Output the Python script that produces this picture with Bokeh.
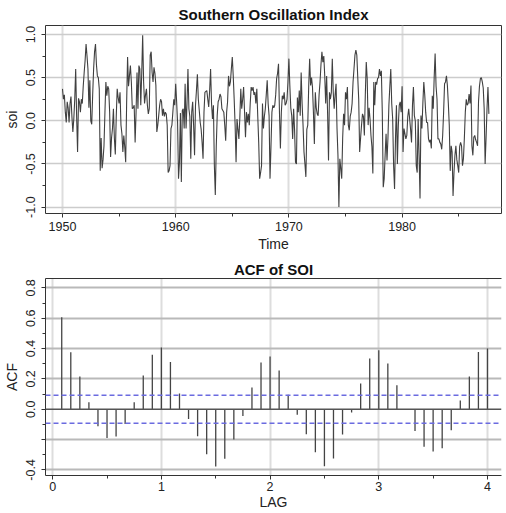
import math
from bokeh.plotting import figure
from bokeh.models import Range1d, FixedTicker, Span, LinearAxis
from bokeh.layouts import column
from bokeh.embed import file_html
from bokeh.resources import INLINE

# ---------------- data ----------------
start_year = 1950
soi = [
    0.37, 0.25, 0.30, 0.10, -0.02, 0.22, 0.15, -0.02, 0.20, 0.28, 0.05, -0.13,
    0.02, 0.25, 0.60, 0.05, -0.36, 0.26, 0.22, 0.10, 0.25, 0.20, 0.40, 0.56,
    0.70, 0.89, 0.75, 0.60, 0.15, 0.47, 0.00, -0.04, 0.30, 0.60, 0.80, 0.89,
    0.65, 0.52, 0.50, 0.37, -0.58, -0.20, -0.55, -0.45, -0.29, 0.10, 0.45, 0.29,
    0.40, 0.37, 0.10, -0.42, -0.20, -0.09, 0.14, -0.20, -0.39, 0.05, 0.37, 0.27,
    0.20, 0.33, -0.05, -0.15, -0.36, -0.17, -0.30, -0.48, 0.20, 0.74, 0.40, 0.52,
    0.64, 0.45, 0.14, 0.15, 0.18, -0.25, 0.10, 0.56, 0.14, 0.64, 0.60, 0.18,
    0.55, 0.99, 0.45, 0.20, 0.30, 0.37, 0.18, 0.08, 0.14, 0.76, 0.80, 0.56,
    0.45, 0.62, 0.55, 0.41, -0.13, -0.05, 0.06, 0.18, 0.25, 0.22, 0.06, 0.14,
    0.05, 0.10, 0.08, -0.05, -0.60, -0.58, -0.52, -0.09, -0.05, 0.10, 0.25, 0.18,
    0.43, 0.22, -0.02, -0.67, -0.48, 0.09, -0.71, 0.12, 0.14, -0.09, 0.43, -0.09,
    0.20, 0.60, 0.14, 0.05, -0.44, 0.10, 0.22, -0.05, -0.40, 0.18, 0.35, 0.54,
    0.25, 0.12, -0.02, -0.10, -0.25, -0.44, 0.10, 0.33, 0.34, 0.35, 0.25, 0.16,
    0.35, 0.60, 0.20, 0.02, 0.18, -0.52, -0.86, -0.30, 0.06, 0.22, 0.25, 0.31,
    0.28, 0.14, 0.12, 0.10, -0.05, -0.23, 0.10, 0.22, 0.52, 0.40, 0.45, 0.60,
    0.74, 0.52, 0.25, -0.05, -0.48, 0.02, -0.10, -0.21, 0.04, 0.37, 0.14, 0.25,
    0.39, 0.10, -0.19, 0.10, -0.02, 0.08, -0.05, 0.20, 0.39, 0.35, 0.39, 0.30,
    0.33, 0.20, 0.37, 0.05, -0.25, -0.67, -0.60, -0.52, 0.20, -0.09, 0.05, 0.14,
    0.30, 0.47, 0.20, 0.06, -0.67, -0.30, 0.10, 0.18, 0.15, 0.18, 0.30, 0.49,
    0.55, 0.66, 0.10, -0.32, 0.10, 0.29, 0.25, 0.33, 0.18, 0.20, 0.25, 0.45,
    0.72, 0.41, 0.15, 0.06, -0.21, 0.14, -0.10, -0.48, -0.50, 0.27, 0.10, 0.35,
    0.06, 0.56, 0.20, -0.05, -0.36, -0.50, -0.65, -0.10, -0.05, 0.40, 0.72, 0.41,
    0.50, 0.39, 0.10, -0.27, 0.33, 0.15, 0.08, 0.06, 0.30, 0.45, 0.65, 0.80,
    0.68, 0.75, 0.52, 0.20, 0.52, 0.10, -0.46, 0.33, 0.25, 0.33, 0.72, 0.33,
    0.14, 0.30, 0.43, -0.09, -0.40, -1.00, -0.44, -0.55, -0.67, -0.20, 0.08, -0.05,
    0.33, 0.25, 0.39, -0.05, -0.11, 0.05, 0.10, 0.20, 0.45, 0.60, 0.76, 0.82,
    0.76, 0.50, 0.25, -0.36, -0.20, -0.05, 0.08, 0.05, -0.17, 0.30, 0.68, 0.49,
    -0.05, 0.15, 0.02, -0.17, -0.30, -0.61, 0.45, 0.18, 0.45, 0.42, 0.49, 0.50,
    0.60, 0.52, 0.58, 0.10, -0.77, -0.67, -0.40, -0.15, -0.46, -0.20, 0.18, 0.40,
    0.60, 0.20, 0.02, -0.52, -0.79, -0.20, 0.18, -0.50, -0.05, 0.18, 0.22, 0.10,
    0.40, -0.36, -0.09, -0.15, -0.21, -0.17, 0.05, 0.14, 0.02, -0.10, -0.25, 0.18,
    0.39, 0.06, 0.00, -0.52, -0.60, 0.02, -0.40, -0.90, 0.06, -0.09, 0.20, 0.45,
    0.30, 0.10, -0.02, -0.02, -0.21, -0.25, -0.22, -0.32, 0.29, 0.14, 0.50, 0.78,
    0.40, 0.25, -0.21, -0.21, -0.25, -0.27, -0.33, -0.17, 0.10, 0.43, 0.45, 0.52,
    0.41, 0.20, -0.05, -0.58, -0.29, -0.36, -0.87, -0.60, -0.40, -0.29, -0.45, -0.52,
    -0.60, -0.30, -0.25, -0.29, -0.52, -0.44, -0.20, 0.10, 0.25, 0.18, 0.20, 0.31,
    0.20, 0.41, -0.29, -0.40, -0.19, -0.17, -0.22, -0.25, -0.29, 0.22, 0.40, 0.49,
    0.50, 0.45, 0.38, 0.14, -0.50, -0.20, 0.14, 0.39, 0.08,
]
time = [start_year + i / 12 for i in range(len(soi))]

year_ticks = [1950, 1960, 1970, 1980]
year_minor = [1955, 1965, 1975, 1985]
soi_ticks = [-1.0, -0.5, 0.0, 0.5, 1.0]
soi_minor = [-0.75, -0.25, 0.25, 0.75]

acf_lag = [k / 12 for k in range(1, 49)]
acf_val = [
    0.607, 0.376, 0.215, 0.046, -0.112, -0.190, -0.180, -0.097, 0.046, 0.222, 0.360, 0.407,
    0.312, 0.103, -0.064, -0.178, -0.297, -0.378, -0.327, -0.200, -0.044, 0.143, 0.308, 0.347,
    0.255, 0.095, -0.037, -0.165, -0.283, -0.376, -0.325, -0.167, -0.022, 0.169, 0.334, 0.389,
    0.301, 0.158, -0.004, -0.143, -0.248, -0.279, -0.257, -0.138, 0.057, 0.215, 0.378, 0.400,
]
conf_limit = 1.96 / math.sqrt(len(soi))
lag_ticks = [0, 1, 2, 3, 4]
lag_minor = [0.5, 1.5, 2.5, 3.5]
acf_ticks = [-0.4, -0.2, 0.0, 0.2, 0.4, 0.6, 0.8]
acf_minor = [-0.3, -0.1, 0.1, 0.3, 0.5, 0.7]
acf_grid = [-0.4, -0.2, 0.2, 0.4, 0.6, 0.8]

FONT = "Liberation Sans"
DARK = "#333333"

def style_axes(p):
    for ax in (p.xaxis[0], p.yaxis[0]):
        ax.major_label_text_font = FONT
        ax.major_label_text_font_size = "12.5px"
        ax.major_label_text_color = "#222222"
        ax.axis_label_text_font = FONT
        ax.axis_label_text_font_size = "14px"
        ax.axis_label_text_font_style = "normal"
        ax.axis_label_text_color = "#222222"
        ax.major_tick_line_color = DARK
        ax.minor_tick_line_color = DARK
        ax.major_tick_in = 0
        ax.minor_tick_in = 0
        ax.major_tick_out = 4
        ax.minor_tick_out = 3
    p.title.text_font = FONT
    p.title.text_font_size = "15px"
    p.title.text_font_style = "bold"
    p.title.text_color = "#111111"
    p.title.align = "center"
    p.background_fill_color = "white"
    p.border_fill_color = "white"

# ---------------- top: SOI series ----------------
p1 = figure(width=506, height=258, output_backend="svg", toolbar_location=None,
            x_range=Range1d(1948.5, 1988.78), y_range=Range1d(-1.074, 1.104),
            min_border_left=45, min_border_right=5, min_border_top=25, min_border_bottom=45,
            title="Southern Oscillation Index")
style_axes(p1)
p1.title.standoff = 5
p1.outline_line_color = DARK
p1.outline_line_width = 1
p1.xgrid.ticker = FixedTicker(ticks=year_ticks)
p1.xgrid.grid_line_color = "#dddddd"
p1.xgrid.grid_line_width = 2
p1.ygrid.ticker = FixedTicker(ticks=soi_ticks)
p1.ygrid.grid_line_color = "#cccccc"
p1.ygrid.grid_line_width = 1.5
p1.xaxis.ticker = FixedTicker(ticks=year_ticks, minor_ticks=year_minor)
p1.yaxis.ticker = FixedTicker(ticks=soi_ticks, minor_ticks=soi_minor)
p1.yaxis.major_label_overrides = {t: f"{t:.1f}" for t in soi_ticks}
p1.yaxis.major_label_orientation = "vertical"
p1.xaxis.axis_line_color = None
p1.yaxis.axis_line_color = None
p1.xaxis.axis_label = "Time"
p1.yaxis.axis_label = "soi"
p1.xaxis.major_label_standoff = 4
p1.yaxis.major_label_standoff = 6
p1.xaxis.axis_label_standoff = 2
p1.yaxis.axis_label_standoff = 4
p1.line(time, soi, line_color="#404040", line_width=1.1)

# ---------------- bottom: ACF ----------------
p2 = figure(width=506, height=255, output_backend="svg", toolbar_location=None,
            x_range=Range1d(-0.066, 4.129), y_range=Range1d(-0.437, 0.862),
            min_border_left=42, min_border_right=0, min_border_top=20, min_border_bottom=38,
            title="ACF of SOI")
style_axes(p2)
p2.title.standoff = 1
p2.outline_line_color = None
p2.xgrid.ticker = FixedTicker(ticks=lag_ticks)
p2.xgrid.grid_line_color = "#dddddd"
p2.xgrid.grid_line_width = 2
p2.ygrid.ticker = FixedTicker(ticks=acf_grid)
p2.ygrid.grid_line_color = "#b9b9b9"
p2.ygrid.grid_line_width = 2
p2.xaxis.ticker = FixedTicker(ticks=lag_ticks, minor_ticks=lag_minor)
p2.yaxis.ticker = FixedTicker(ticks=acf_ticks, minor_ticks=acf_minor)
overrides = {t: f"{t:.1f}" for t in acf_ticks}
overrides[-0.2] = ""
p2.yaxis.major_label_overrides = overrides
p2.yaxis.major_label_orientation = "vertical"
p2.xaxis.axis_line_color = DARK
p2.yaxis.axis_line_color = DARK
p2.xaxis.axis_label = "LAG"
p2.yaxis.axis_label = "ACF"
p2.xaxis.major_label_standoff = 2
p2.yaxis.major_label_standoff = 6
p2.xaxis.axis_label_standoff = 0
p2.yaxis.axis_label_standoff = 4
top_axis = LinearAxis(ticker=FixedTicker(ticks=[]), axis_line_color=DARK,
                      major_tick_line_color=None, minor_tick_line_color=None,
                      major_label_text_font_size="0px", major_label_standoff=0)
p2.add_layout(top_axis, "above")
p2.add_layout(Span(location=0, dimension="width", line_color="#555555", line_width=1.5))
p2.add_layout(Span(location=conf_limit, dimension="width", line_color="#6b6be0",
                   line_width=1.5, line_dash="5 3"))
p2.add_layout(Span(location=-conf_limit, dimension="width", line_color="#6b6be0",
                   line_width=1.5, line_dash="5 3"))
p2.segment(x0=acf_lag, y0=[0] * len(acf_lag), x1=acf_lag, y1=acf_val,
           line_color="#444444", line_width=1.3)

layout = column(p1, p2, spacing=0)
open("out.html", "w").write(file_html(layout, INLINE))
